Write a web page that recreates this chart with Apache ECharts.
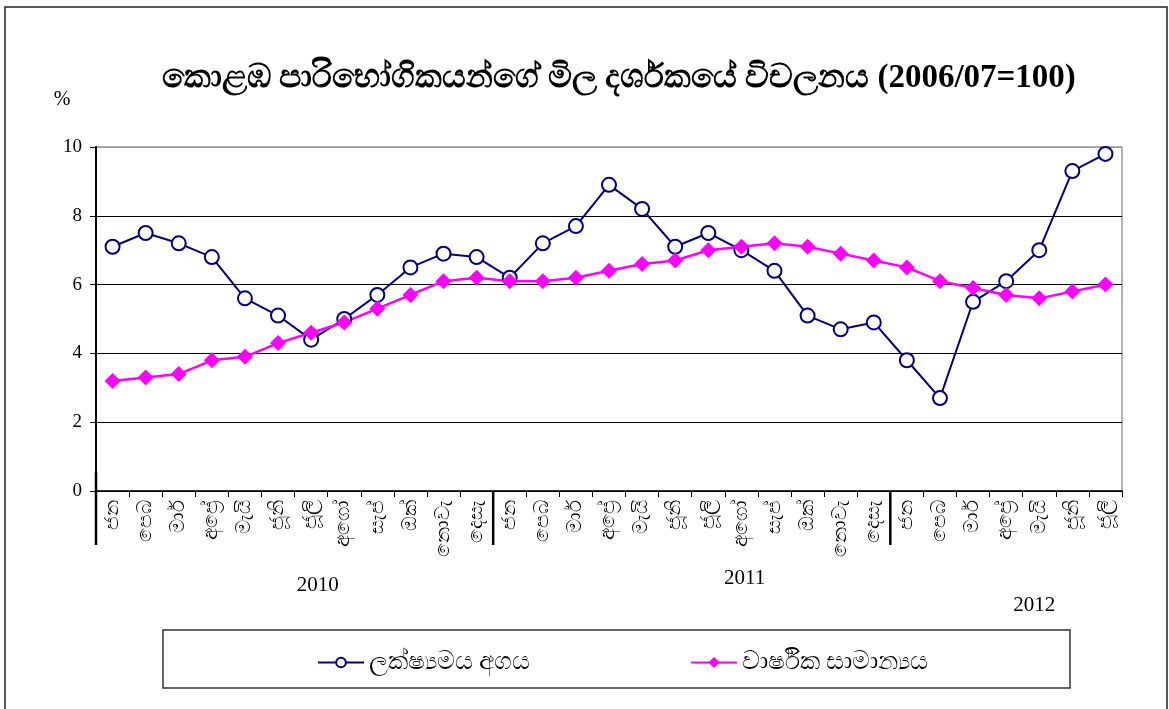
<!DOCTYPE html>
<html>
<head>
<meta charset="utf-8">
<title>CCPI</title>
<script src="https://cdn.jsdelivr.net/npm/echarts@6/dist/echarts.min.js"></script>
</head>
<body style="margin:0;width:1169px;height:709px;background:#fff;">
<div id="main" style="width:1169px;height:709px;"></div>
<script>
var monthNames = ['ජන', 'පෙබ', 'මාර්', 'අප්‍රේ', 'මැයි', 'ජූනි', 'ජූලි', 'අගෝ', 'සැප්', 'ඔක්', 'නොවැ', 'දෙසැ'];
var categories = monthNames.concat(monthNames, monthNames.slice(0, 7));
var pointValues = [7.1, 7.5, 7.2, 6.8, 5.6, 5.1, 4.4, 5.0, 5.7, 6.5, 6.9, 6.8,
                   6.2, 7.2, 7.7, 8.9, 8.2, 7.1, 7.5, 7.0, 6.4, 5.1, 4.7, 4.9,
                   3.8, 2.7, 5.5, 6.1, 7.0, 9.3, 9.8];
var annualAvg = [3.2, 3.3, 3.4, 3.8, 3.9, 4.3, 4.6, 4.9, 5.3, 5.7, 6.1, 6.2,
                 6.1, 6.1, 6.2, 6.4, 6.6, 6.7, 7.0, 7.1, 7.2, 7.1, 6.9, 6.7,
                 6.5, 6.1, 5.9, 5.7, 5.6, 5.8, 6.0];
var years = ['2010', '2011', '2012'];
var seriesNames = ['ලක්ෂ්‍යමය අගය', 'වාර්ෂික සාමාන්‍යය'];

var serif = '"Liberation Serif", "Times New Roman", serif';
var chart = echarts.init(document.getElementById('main'));

var option = {
    animation: false,
    backgroundColor: '#fff',
    grid: {
        left: 96, right: 47, top: 147, bottom: 218,
        show: true, borderColor: '#999', borderWidth: 1.5
    },
    legend: [
        {
            data: [seriesNames[0]], left: 312, top: 645,
            itemWidth: 46, itemHeight: 12, itemGap: 4,
            textStyle: { fontSize: 25, color: '#000', fontFamily: serif }
        },
        {
            data: [seriesNames[1]], left: 685, top: 645,
            itemWidth: 46, itemHeight: 14, itemGap: 4,
            textStyle: { fontSize: 25, color: '#000', fontFamily: serif }
        }
    ],
    xAxis: {
        type: 'category',
        data: categories,
        boundaryGap: true,
        axisLine: { lineStyle: { color: '#000', width: 1.5 } },
        axisTick: { show: true, length: 6, lineStyle: { color: '#000' } },
        axisLabel: {
            rotate: 90, interval: 0, margin: 9,
            fontSize: 20, color: '#000', fontFamily: serif
        }
    },
    yAxis: {
        type: 'value',
        min: 0, max: 10, interval: 2,
        axisLine: { show: true, lineStyle: { color: '#000', width: 2 } },
        axisTick: { show: true, length: 6, lineStyle: { color: '#000' } },
        axisLabel: { fontSize: 19, color: '#000', fontFamily: serif, margin: 14 },
        splitLine: {
            lineStyle: { color: ['#000', '#000', '#000', '#000', '#000', '#999'], width: 1.2 }
        }
    },
    graphic: [
        {
            type: 'rect', id: 'frame',
            shape: { x: 5, y: 7, width: 1162, height: 720 },
            style: { fill: 'none', stroke: '#222', lineWidth: 1.5 }
        },
        {
            type: 'rect', id: 'legendBox',
            shape: { x: 163, y: 630, width: 907, height: 58 },
            style: { fill: 'none', stroke: '#333', lineWidth: 1.5 }
        },
        {
            type: 'text', id: 'title', x: 619, y: 78,
            style: {
                text: 'කොළඹ පාරිභෝගිකයන්ගේ මිල දර්ශකයේ විචලනය (2006/07=100)',
                fontSize: 33, fontWeight: 'bold', fontFamily: serif,
                fill: '#000', textAlign: 'center', textVerticalAlign: 'middle'
            }
        },
        {
            type: 'text', id: 'pct', x: 62, y: 100,
            style: {
                text: '%', fontSize: 20, fontFamily: serif, fill: '#000',
                textAlign: 'center', textVerticalAlign: 'middle'
            }
        }
    ],
    series: [
        {
            name: seriesNames[0],
            type: 'line',
            data: pointValues,
            symbol: 'emptyCircle',
            symbolSize: 14,
            itemStyle: { color: '#000080', borderWidth: 2 },
            lineStyle: { color: '#000080', width: 2 }
        },
        {
            name: seriesNames[1],
            type: 'line',
            data: annualAvg,
            symbol: 'diamond',
            symbolSize: 16,
            itemStyle: { color: '#ff00ff' },
            lineStyle: { color: '#ff00ff', width: 2.5 }
        }
    ]
};

chart.setOption(option);

// year separators and year labels placed from the category axis
var x0 = chart.convertToPixel({ xAxisIndex: 0 }, 0);
var x1 = chart.convertToPixel({ xAxisIndex: 0 }, 1);
var band = x1 - x0;
var axisY = chart.convertToPixel({ yAxisIndex: 0 }, 0);
var extra = [];
[0, 12, 24].forEach(function (idx, i) {
    var bx = chart.convertToPixel({ xAxisIndex: 0 }, idx) - band / 2;
    extra.push({
        type: 'line', id: 'sep' + i,
        shape: { x1: bx, y1: i === 0 ? axisY - 19 : axisY, x2: bx, y2: axisY + 54 },
        style: { stroke: '#000', lineWidth: 2.5 }
    });
});
var yearPos = [[6.2, 94], [19.1, 87], [27.85, 114]];
years.forEach(function (y, i) {
    extra.push({
        type: 'text', id: 'year' + i,
        x: x0 + yearPos[i][0] * band,
        y: axisY + yearPos[i][1],
        style: {
            text: y, fontSize: 21, fontFamily: serif, fill: '#000',
            textAlign: 'center', textVerticalAlign: 'middle'
        }
    });
});
chart.setOption({ graphic: extra });
</script>
</body>
</html>
